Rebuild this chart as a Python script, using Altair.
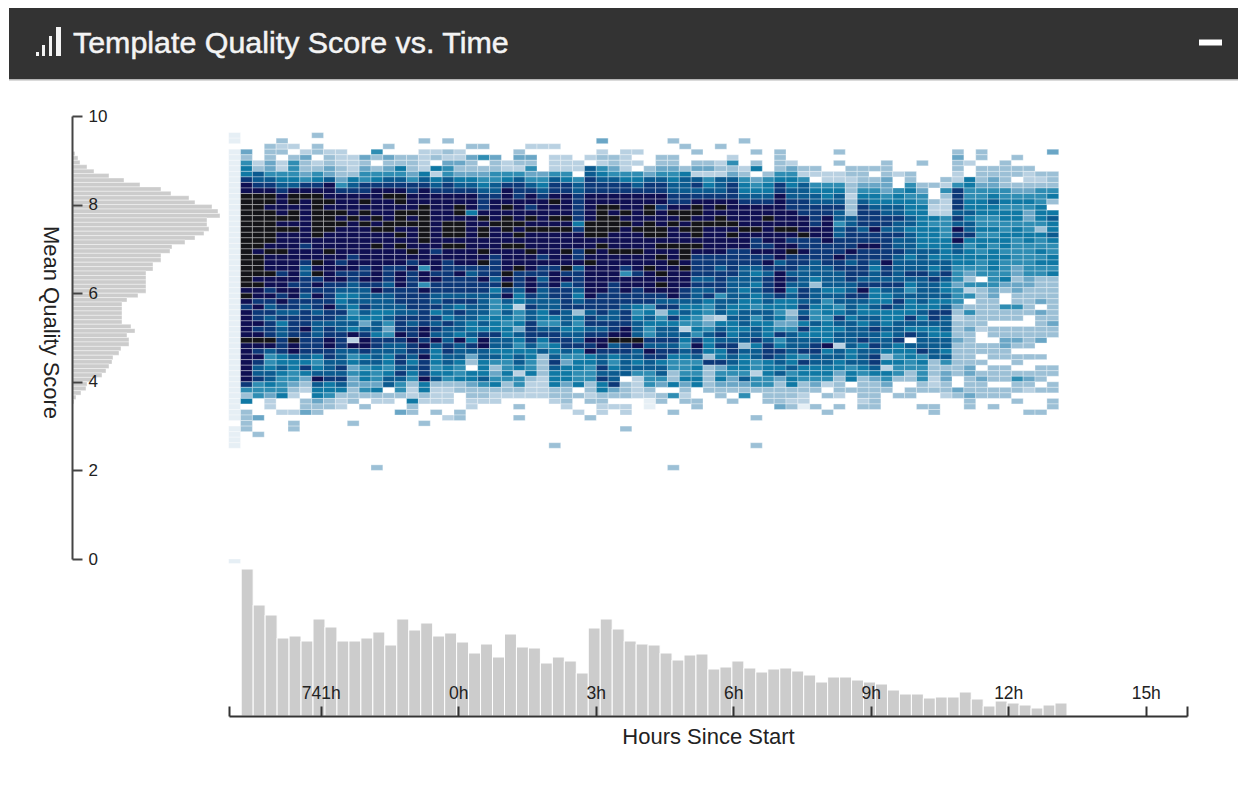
import altair as alt
import pandas as pd

alt.data_transformers.disable_max_rows()

# Density level per heat-map column; each character is one 0.125-wide score row,
# from the 9.5-9.625 row downwards. 0 = empty, 1 (palest) .. a (black).
heat_columns = [
    "1101111111 1111111111 1111111111 1111111111 1111111111 1101111",
    "0004356689 9aaaaaaaaa aaaaaaaa9a 9899999a99 9999985360 3333",
    "0000023778 9aaaaaaaaa a9aaaa9a99 8988989a98 9877855500 04003",
    "0033344578 9aa9aaaaaa 9a999a9989 8787888a97 5567765422",
    "0323022567 89999a9a99 9a99989998 9878677888 6676555600 2",
    "0020355567 9aa9aa9a99 9999999899 8878888a99 7665543200 2033",
    "0002433458 9a99999999 8998778887 8788898888 7686432033 4",
    "3033023568 9aaaaaaaa9 999a9a8989 8878777888 6567976643 3",
    "0002334479 99a9aaaa99 9a99999888 8988788998 8777866533",
    "0002223345 8999a9a999 9998989876 6787778887 7787876322",
    "0000222367 89999a9999 9989988776 7656769297 5645443330 003",
    "0000434558 89a9a9a999 9999889877 7876478998 6756645303",
    "0005303568 99999a9a99 a999999897 7766776887 7765546320 00000000003",
    "0030434578 9a9999aa99 9999888787 7767545877 6656770320",
    "0000336578 9aa9aaa9a9 a999899988 8778889877 8878755300 4",
    "0000333458 8999a9a999 9a98988888 8878788988 7676532263 3",
    "0302222678 999aaaaaaa 9999599598 8888899898 9888966320 003",
    "0002306267 8999999999 9899989887 7868787976 6656732220 3",
    "0303245578 899999aaa9 a998888887 8776877788 7766532220 02",
    "0002243467 899aa9aaa9 a999898887 8687776977 7655633000 33",
    "0030433467 8999699999 9999878887 8777667687 4306643322",
    "0030503456 78889a9aa9 9a9a889887 7776768997 7666753320",
    "0000433557 789999a999 9988887867 5556668776 7534563220",
    "0000022568 999a9aaa99 a9999a9a89 7676566776 6556533200",
    "0003432578 889999a9a9 a999a88876 6255647656 7762553203 03",
    "0020435457 89989a9a99 9a99989998 7877888876 6556322200",
    "0020000456 7899999a99 9989887877 7766578657 3333222200",
    "0020222578 89a99a9a99 9999899988 7786578866 7876663320 0000003",
    "0000222568 89999a9a99 9a99a89788 8877767887 5466643332",
    "0000022057 7888886899 9889788876 7836567786 5665560300 2",
    "0000207788 899999aaa9 9a9a999999 8878878989 6655533230 03",
    "0402325678 899aaaaaa9 a999999998 8887878998 7787866332 2",
    "0000334578 899a9aaa99 9a99999888 8877889a78 6567784302",
    "0002222568 8999a9a999 9a99859998 8788899a88 7777033302 2003",
    "0002020567 8999999a99 9a99989988 8656777a97 7675222200",
    "0000003478 899aa9aaa9 9999a99998 8567655879 8775553211",
    "0000334578 8998999aa9 a9a99a9a98 7835677878 8677540330",
    "0300334567 7889a9a999 a99a999999 7868677878 6553360500 30000000003",
    "0030003677 7889aa9a99 aaa9a99988 7676527657 6555643230",
    "0003034278 789aa9aaa9 a988887877 7665565898 7565660033",
    "0000034256 789999a999 9988887878 6553457666 3833333000",
    "0030023277 789a9aa999 9988788885 7772678786 6845643300",
    "0000253478 889999a9a9 9888887777 7667666788 7765443030",
    "0300002356 6789999a99 9888777767 6677767737 6665743500",
    "0003036045 6789999a98 8988767676 6575677867 7552553000 0300003",
    "0000000356 67899a9999 8989878887 7677666788 8666553330",
    "0003333568 8999999a99 9997899998 6656458568 7767433334",
    "0000024566 7788999a98 9a88878767 6634457777 6675663323",
    "0000003257 77888999a8 8988777788 7878686778 5866533221",
    "0000003205 6778888998 8887776377 7655766788 7766543003",
    "0000000225 6678899999 8888777767 5665666696 7766520300 3",
    "0003030225 6778775778 8898877767 7568767727 7664333203",
    "0000003323 3233377888 8987888778 7776777776 6756603000",
    "0000003334 5678888788 9888887898 7667677867 7765333323",
    "0000003034 5667888988 9887677866 6767787787 8876433333",
    "0000033344 4567788788 8889887876 6866676776 3626543000",
    "0000000200 5667787787 7877777877 8766777866 5655300300",
    "0000000335 6566677677 7767787657 6668768076 6553303300",
    "0000030003 4556666666 6777787777 7676767778 5655533003",
    "0000000003 0032265666 6767678777 6688766777 7333223003 3",
    "0000000032 5322255556 6667787667 6787776776 7534433200",
    "0003433225 8888787989 7766555455 5432333433 3333004300",
    "0000020066 5566767786 5666543525 0353343333 3344333433",
    "0003303334 5566655656 6565550533 3333320033 0303433300",
    "0000003344 5676655656 5666655544 3333033033 3033303303",
    "0000033333 5565665566 6565556430 0533033443 3033303300",
    "0000303303 4565665665 5555443443 3533033430 3303533030",
    "0000003223 4565445566 5555554433 3330033330 3003432000 3",
    "0000000323 5556665365 5656553333 4043333400 3033303000 3",
    "0004000333 5630676676 5566563333 3333433000 0033033033",
]

level_names = list("123456789a")
level_colors = ["#e6eff5", "#b9d1e2", "#9cc0d6", "#6aa6c6", "#2f8db3",
                "#0f78a4", "#0b5a8f", "#0c3878", "#0f0f52", "#141418"]

# Bottom histogram: reads per time bin
time_counts = [147, 111, 101, 78, 80, 75, 97, 89, 75, 75, 78, 84, 71, 97, 86, 93,
               80, 83, 74, 63, 72, 59, 82, 69, 68, 53, 59, 55, 43, 88, 97, 87,
               75, 72, 71, 63, 56, 61, 62, 47, 49, 55, 48, 44, 47, 48, 45, 41,
               34, 39, 39, 36, 34, 32, 26, 22, 22, 18, 19, 19, 24, 17, 10, 15,
               13, 11, 8, 11, 13]

# Left histogram: reads per score bin, from the 9.1-9.2 row downwards
score_counts = [3, 6, 8, 15, 22, 37, 52, 68, 89, 99, 117, 123, 140, 146, 148, 135,
                135, 137, 132, 123, 113, 100, 98, 89, 89, 81, 81, 74, 74, 74, 74,
                74, 66, 55, 50, 50, 50, 50, 50, 59, 63, 55, 57, 57, 49, 47, 41,
                40, 37, 34, 30, 20, 15, 14, 9, 4, 2, 1]

x_ticks = [-5, -3, 0, 3, 6, 9, 12, 15, 15.9]
y_ticks = [0, 2, 4, 6, 8, 10]

title_text = "Template Quality Score vs. Time"
x_title = "Hours Since Start"
y_title = "Mean Quality Score"

FONT = "Liberation Sans"
W, H = 1230, 770

HEAT_X0, HEAT_DX = -5.007, 0.2587
BAR_X0, BAR_DX = -4.734, 0.2611
ROW = 0.125

cells = []
for c, col in enumerate(heat_columns):
    for r, ch in enumerate(col.replace(" ", "")):
        if ch != "0":
            cells.append({"x": HEAT_X0 + c * HEAT_DX, "x2": HEAT_X0 + (c + 1) * HEAT_DX,
                          "y": 9.5 - r * ROW, "y2": 9.5 - (r - 1) * ROW, "level": ch})
cells.append({"x": HEAT_X0, "x2": HEAT_X0 + HEAT_DX, "y": -0.1, "y2": 0.0, "level": "1"})
heat_df = pd.DataFrame(cells)

bars_df = pd.DataFrame({"x": [BAR_X0 + i * BAR_DX for i in range(len(time_counts))],
                        "x2": [BAR_X0 + (i + 1) * BAR_DX for i in range(len(time_counts))],
                        "base": [0] * len(time_counts),
                        "n": time_counts})
side_df = pd.DataFrame({"y": [9.1 - i * 0.1 for i in range(len(score_counts))],
                        "y2": [9.2 - i * 0.1 for i in range(len(score_counts))],
                        "base": [0] * len(score_counts),
                        "n": score_counts})

x_scale = alt.Scale(domain=[-5, 15.9], range=[221, 1179], nice=False, zero=False)
y_scale = alt.Scale(domain=[0, 10], range=[551, 108], nice=False, zero=False)


def box(x0, x1, y0, y1, color):
    return alt.Chart().mark_rect(color=color).encode(
        x=alt.value(x0), x2=alt.value(x1), y=alt.value(y0), y2=alt.value(y1))


header = box(1, W, 0, 71, "#333333")
shadow = box(1, W, 71, 72.5, "#b5b5b5")
icon = [box(28, 31, 44, 48, "#f4f4f4"), box(34, 37, 37, 48, "#f4f4f4"),
        box(41, 44, 28, 48, "#f4f4f4"), box(48, 53, 19, 48, "#f4f4f4")]
minus = box(1191, 1214, 31.5, 37.5, "#ffffff")
title = alt.Chart().mark_text(text=title_text, font=FONT, fontSize=30.4, color="#f4f4f4",
                              stroke="#f4f4f4", strokeWidth=0.5,
                              align="left", baseline="middle").encode(
    x=alt.value(65), y=alt.value(36))

side = alt.Chart(side_df).mark_rect(color="#cccccc", stroke="#ffffff", strokeWidth=0.4).encode(
    x=alt.X("base:Q", scale=alt.Scale(domain=[0, 150], range=[64, 214], nice=False), axis=None),
    x2="n:Q",
    y=alt.Y("y:Q", scale=y_scale, axis=None),
    y2="y2:Q",
)

heat = alt.Chart(heat_df).mark_rect(stroke="#ffffff", strokeWidth=0.7, strokeOpacity=0.45).encode(
    x=alt.X("x:Q", scale=x_scale, axis=alt.Axis(
        orient="top", offset=-708, values=x_ticks, grid=False, tickSize=10, tickWidth=2,
        tickColor="#333333", domainColor="#333333", domainWidth=2, zindex=1,
        labelFont=FONT, labelFontSize=17.5, labelColor="#222222", labelPadding=4,
        labelExpr="datum.value === -5 || datum.value === 15.9 ? '' : "
                  "(datum.value === -3 ? '741h' : datum.value + 'h')",
        labelOverlap=False, labelFlush=False,
        title=x_title, titleFont=FONT, titleFontSize=22, titleFontWeight="normal",
        titleColor="#222222", titleX=700, titleY=20, titleBaseline="middle")),
    x2="x2:Q",
    y=alt.Y("y:Q", scale=y_scale, axis=alt.Axis(
        orient="right", offset=-(W - 64), values=y_ticks, grid=False, tickSize=10, tickWidth=2,
        tickColor="#444444", domainColor="#444444", domainWidth=2, zindex=1,
        labelFont=FONT, labelFontSize=17, labelColor="#222222", labelPadding=6,
        labelOverlap=False, format="d",
        title=y_title, titleFont=FONT, titleFontSize=22, titleFontWeight="normal",
        titleColor="#222222", titleX=-22, titleY=314, titleAngle=90, titleBaseline="middle")),
    y2="y2:Q",
    color=alt.Color("level:N", legend=None,
                    scale=alt.Scale(domain=level_names, range=level_colors)),
)

bars = alt.Chart(bars_df).mark_rect(color="#cccccc", stroke="#ffffff", strokeWidth=1).encode(
    x=alt.X("x:Q", scale=x_scale, axis=None),
    x2="x2:Q",
    y=alt.Y("base:Q", scale=alt.Scale(domain=[0, 150], range=[708, 558], nice=False), axis=None),
    y2="n:Q",
)

chart = alt.layer(header, shadow, *icon, minus, title, side, bars, heat).resolve_scale(
    x="independent", y="independent"
).properties(
    width=W, height=H, padding=0, autosize=alt.AutoSizeParams(type="none"),
    background="#ffffff", view=alt.ViewConfig(stroke=None),
)

chart.save("out.html", embed_options={"renderer": "svg", "actions": False})
